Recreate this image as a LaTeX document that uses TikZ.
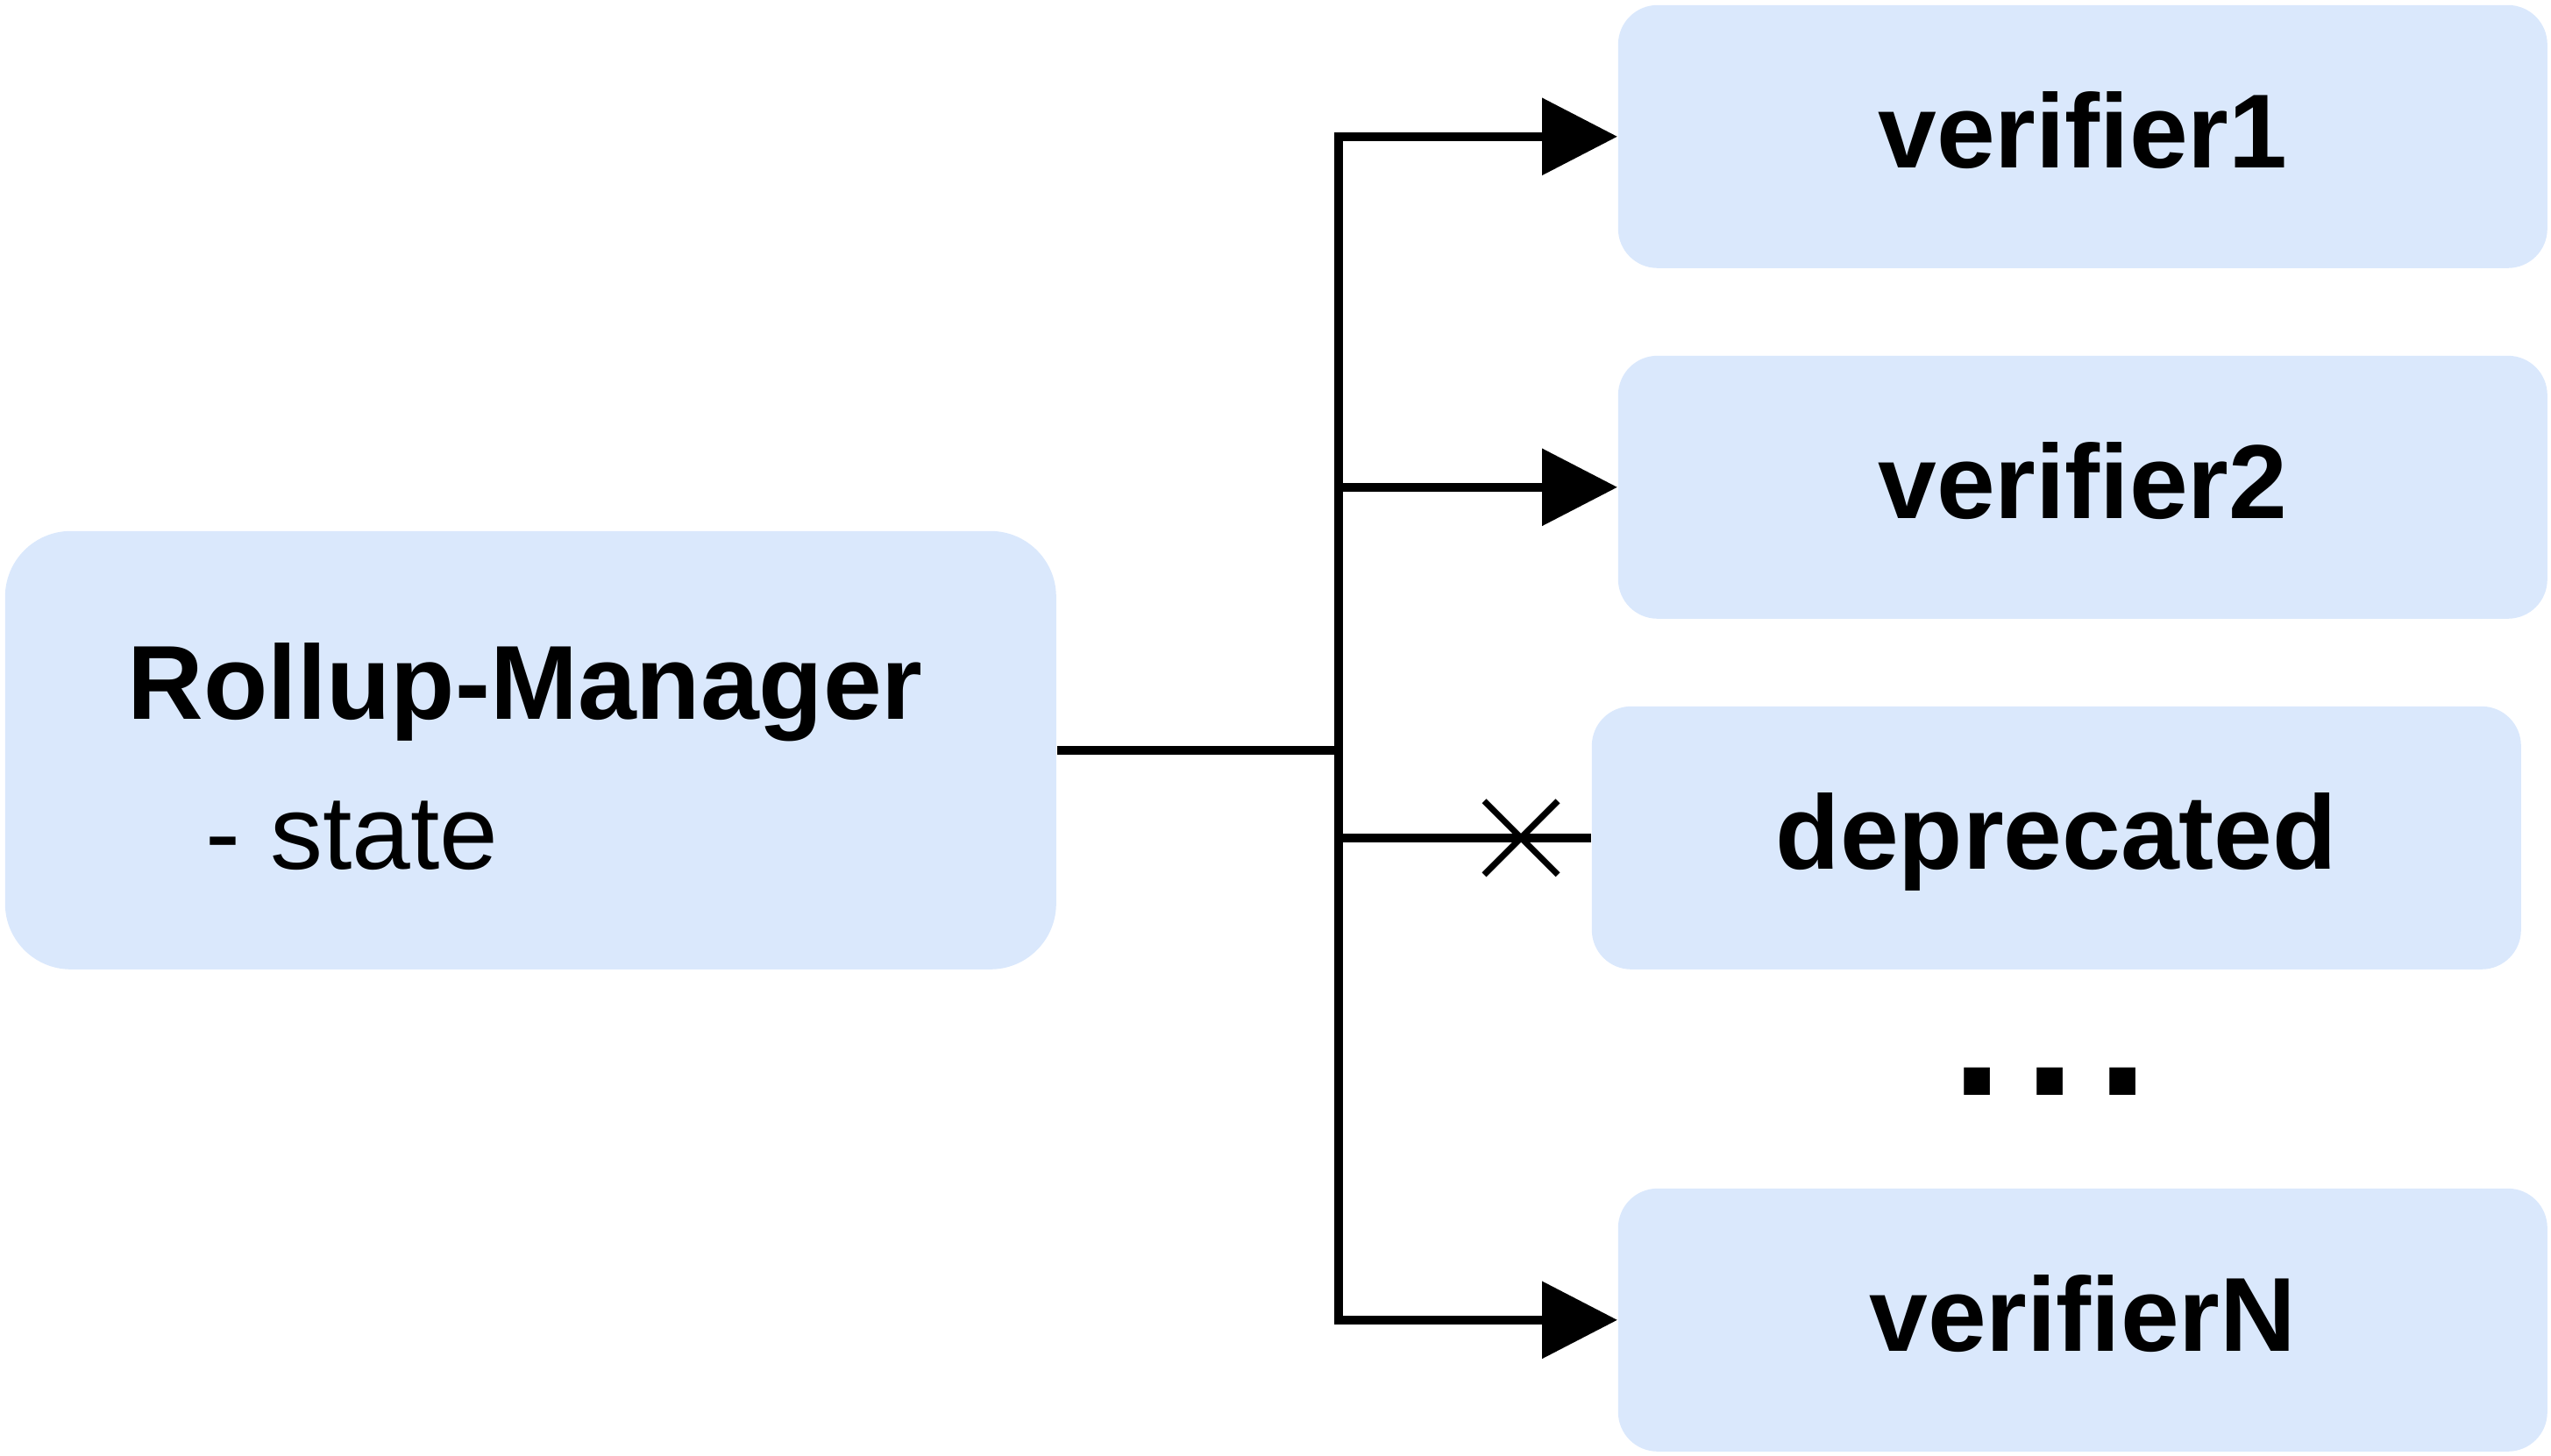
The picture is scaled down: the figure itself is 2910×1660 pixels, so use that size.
\documentclass[tikz,border=0pt]{standalone}
\usepackage{fontspec}
\setmainfont{Liberation Sans}
\usetikzlibrary{arrows.meta}
\definecolor{boxfill}{HTML}{DAE8FC}
\begin{document}
\begin{tikzpicture}[x=0.25pt,y=-0.25pt,
  box/.style={fill=boxfill, draw=none, rounded corners=11.25pt, inner sep=0pt,
    minimum width=265pt, minimum height=75pt, anchor=north west,
    font=\fontsize{30pt}{36pt}\selectfont\bfseries, text height=17.75pt, text depth=0pt},
  bigbox/.style={fill=boxfill, draw=none, rounded corners=18.75pt, inner sep=0pt,
    minimum width=299.75pt, minimum height=125pt, anchor=north west},
  titletxt/.style={anchor=base west, inner sep=0pt, font=\fontsize{30pt}{36pt}\selectfont\bfseries},
  attrtxt/.style={anchor=base west, inner sep=0pt, font=\fontsize{30pt}{36pt}\selectfont},
  conn/.style={line width=2.5pt, line join=miter, draw=black},
  arr/.style={conn, -{Triangle[length=21.5pt,width=21.5pt]}},
  crossmark/.style={line width=1.75pt, draw=black},
  dotstxt/.style={anchor=base, inner sep=0pt, font=\fontsize{52.5pt}{60pt}\selectfont\bfseries}
  ]
\useasboundingbox (0,0) rectangle (2910,1660);

% boxes
\node[bigbox] (rm) at (5,605) {};
\node[titletxt] (rmt) at (145,820) {Rollup-Manager};
\node[attrtxt] (rms) at (234,991) {- state};

\node[box] (v1) at (1845,5) {verifier1};
\node[box] (v2) at (1845,405) {verifier2};
\node[box] (dep) at (1815,805) {deprecated};
\node[box] (vN) at (1845,1355) {verifierN};

\node[dotstxt] (dots) at (2338.5,1249) {.\kern6.25pt.\kern6.25pt.};

% connectors
\coordinate (j) at ([xshift=80.25pt]rm.east);
\draw[conn] (rm.east) -- (j);
\draw[arr] (j) |- (v1.west);
\draw[arr] (j) |- (v2.west);
\draw[conn] (j) |- (dep.west);
\draw[arr] (j) |- (vN.west);

% cross marker on deprecated link
\coordinate (xc) at ([xshift=-20pt]dep.west);
\draw[crossmark] ([shift={(-42,-42)}]xc) -- ([shift={(42,42)}]xc);
\draw[crossmark] ([shift={(-42,42)}]xc) -- ([shift={(42,-42)}]xc);
\end{tikzpicture}
\end{document}
